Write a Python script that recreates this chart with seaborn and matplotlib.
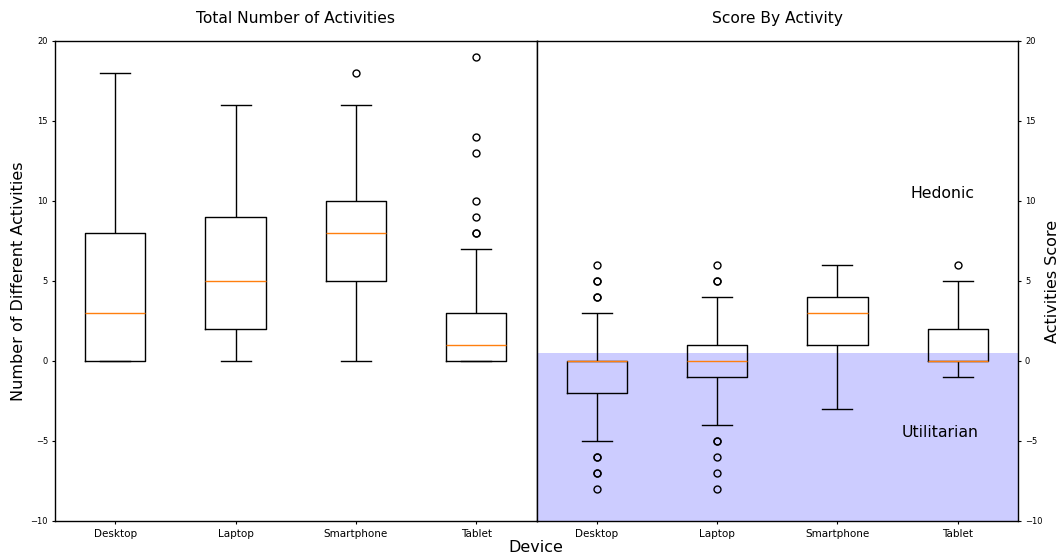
import matplotlib
matplotlib.use("Agg")
import matplotlib.pyplot as plt
import numpy as np
import pandas as pd
import seaborn as sns

# ---------------- data ----------------
devices = ["Desktop", "Laptop", "Smartphone", "Tablet"]

# Number of different activities per respondent (estimated samples that
# reproduce the drawn quartiles / whiskers / outliers)
activities_desktop = [0, 0, 0, 1, 3, 5, 8, 12, 18]
activities_laptop = [0, 1, 2, 4, 5, 7, 9, 12, 16]
activities_smartphone = [0, 3, 5, 7, 8, 9, 10, 16, 18]
activities_tablet = [0, 0, 0, 0, 0, 0, 0, 0, 0,
                     0, 0, 0, 1, 1, 1, 1, 1,
                     1, 1, 2, 2, 2, 3, 3, 3,
                     7, 8, 8, 9, 10, 13, 14, 19]

# Activity score per respondent
score_desktop = [-8, -7, -7, -6, -6, -5, -4, -3, -2,
                 -2, -1, -1, -1, 0, 0, 0, 0,
                 0, 0, 0, 0, 0, 0, 0, 0,
                 1, 2, 3, 4, 4, 5, 5, 6]
score_laptop = [-8, -7, -6, -5, -5, -4, -3, -2, -1,
                -1, -1, -1, 0, 0, 0, 0, 0,
                0, 0, 0, 0, 1, 1, 1, 1,
                2, 2, 3, 3, 4, 5, 5, 6]
score_smartphone = [-3, 0, 1, 2, 3, 3, 4, 5, 6]
score_tablet = [-1, 0, 0, 0, 0, 1, 2, 5, 6]

hedonic_threshold = 0.5
y_min, y_max = -10, 20
y_ticks = [-10, -5, 0, 5, 10, 15, 20]

titles = ["Total Number of Activities", "Score By Activity"]
left_ylabel = "Number of Different Activities"
right_ylabel = "Activities Score"
xlabel = "Device"


def long_frame(series):
    rows = []
    for dev, vals in zip(devices, series):
        for v in vals:
            rows.append((dev, v))
    return pd.DataFrame(rows, columns=["device", "value"])


df_act = long_frame([activities_desktop, activities_laptop,
                     activities_smartphone, activities_tablet])
df_score = long_frame([score_desktop, score_laptop,
                       score_smartphone, score_tablet])

# ---------------- figure ----------------
fig = plt.figure(figsize=(10.61, 5.57), dpi=100)
fig.subplots_adjust(left=55 / 1061, right=1018 / 1061,
                    top=1 - 41 / 557, bottom=1 - 521 / 557, wspace=0)
ax1 = fig.add_subplot(1, 2, 1)
ax2 = fig.add_subplot(1, 2, 2)

box_kws = dict(order=devices, width=0.5, fill=False, color="black",
               linecolor="black", linewidth=1.0, whis=1.5,
               medianprops=dict(color="#ff7f0e", linewidth=1.0),
               flierprops=dict(marker="o", markerfacecolor="none",
                               markeredgecolor="black", markersize=5,
                               markeredgewidth=1.0))

# right panel shaded "utilitarian" region
ax2.axhspan(y_min, hedonic_threshold, color="blue", alpha=0.2, lw=0, zorder=0)

sns.boxplot(data=df_act, x="device", y="value", ax=ax1, **box_kws)
sns.boxplot(data=df_score, x="device", y="value", ax=ax2, **box_kws)

for ax, title in zip((ax1, ax2), titles):
    ax.set_xlim(-0.5, 3.5)
    ax.set_ylim(y_min, y_max)
    ax.set_yticks(y_ticks)
    ax.set_xlabel("")
    ax.set_ylabel("")
    ax.set_title(title, fontsize=11.2, pad=13)
    ax.tick_params(axis="x", labelsize=7.5, length=2.5, pad=3)
    ax.tick_params(axis="y", labelsize=6, length=2.5, pad=2.5)
    for sp in ax.spines.values():
        sp.set_color("black")
        sp.set_linewidth(1.0)

ax1.set_ylabel(left_ylabel, fontsize=11.5, labelpad=3)

ax2.yaxis.tick_right()
ax2.yaxis.set_label_position("right")
ax2.set_ylabel(right_ylabel, fontsize=11.5, labelpad=2)

ax2.text(2.87, 10.5, "Hedonic", fontsize=11.3, ha="center", va="center")
ax2.text(2.85, -4.45, "Utilitarian", fontsize=11.3, ha="center", va="center")

fig.text(536 / 1061, 1 - 548 / 557, xlabel, fontsize=11.5,
         ha="center", va="center")

fig.savefig("out.png", dpi=100)
